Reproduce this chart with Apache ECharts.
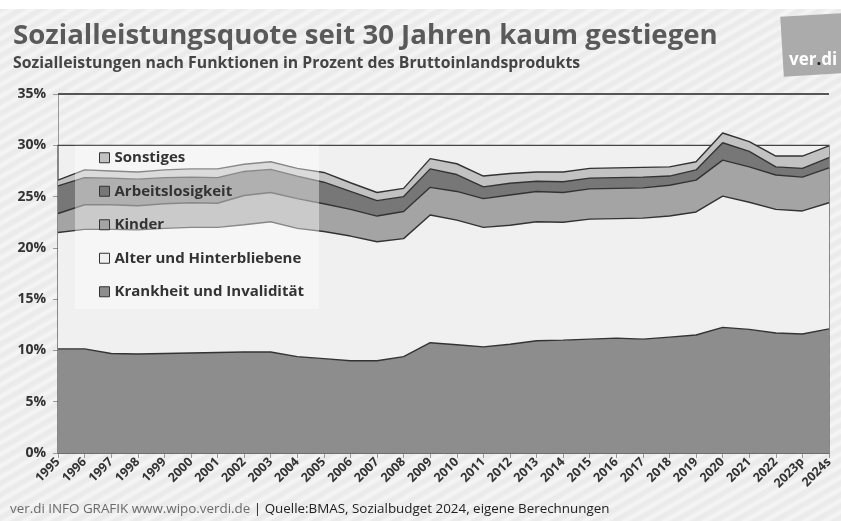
<!DOCTYPE html>
<html><head><meta charset="utf-8">
<script src="https://cdn.jsdelivr.net/npm/echarts@6/dist/echarts.min.js"></script>
<style>
html,body{margin:0;padding:0;background:#fff;}
#bg{position:absolute;left:0;top:9px;width:841px;height:512px;background:repeating-linear-gradient(150deg,#eaeaea 0px,#ececec 3px,#f4f4f4 5px,#f4f4f4 7px,#ececec 9px,#eaeaea 10px);}
#c{position:absolute;left:0;top:0;width:841px;height:521px;}
</style></head><body><div id="bg"></div><div id="c"></div>
<script>
const years = ['1995','1996','1997','1998','1999','2000','2001','2002','2003','2004','2005','2006','2007','2008','2009','2010','2011','2012','2013','2014','2015','2016','2017','2018','2019','2020','2021','2022','2023p','2024s'];
const krankheit = [10.15,10.15,9.7,9.65,9.7,9.75,9.8,9.85,9.85,9.4,9.2,9.0,9.0,9.4,10.75,10.55,10.35,10.6,10.95,11.0,11.1,11.2,11.1,11.3,11.5,12.25,12.05,11.7,11.6,12.1];
const alter = [11.35,11.65,12.1,12.1,12.2,12.25,12.2,12.4,12.7,12.5,12.4,12.15,11.6,11.5,12.45,12.15,11.65,11.6,11.6,11.5,11.7,11.65,11.8,11.8,12.0,12.8,12.4,12.05,12.0,12.3];
const kinder = [1.85,2.4,2.4,2.35,2.4,2.4,2.35,2.85,2.85,2.9,2.7,2.6,2.5,2.65,2.7,2.8,2.8,2.95,2.95,2.9,2.95,2.95,2.95,3.0,3.1,3.5,3.45,3.35,3.3,3.4];
const arbeit = [2.7,2.65,2.6,2.6,2.55,2.5,2.5,2.35,2.25,2.2,2.1,1.75,1.5,1.45,1.8,1.65,1.15,1.15,1.0,1.05,1.05,1.05,1.05,0.9,1.0,1.7,1.5,0.8,0.85,1.0];
const sonstiges = [0.55,0.75,0.7,0.7,0.75,0.8,0.85,0.7,0.75,0.75,0.95,0.85,0.8,0.8,1.0,1.05,1.05,0.95,0.9,0.95,0.95,0.95,0.95,0.9,0.8,0.95,0.95,1.05,1.2,1.15];
const yTicks = {min:0, max:35, interval:5};
const names = ['Krankheit und Invalidität','Alter und Hinterbliebene','Kinder','Arbeitslosigkeit','Sonstiges'];
const colors = ['#8d8d8d','#f0f0f0','#a4a4a4','#777777','#c2c2c2'];
const values = [krankheit, alter, kinder, arbeit, sonstiges];

const font = '"Open Sans", "DejaVu Sans", sans-serif';
const chart = echarts.init(document.getElementById('c'), null, {renderer:'canvas'});

const series = names.map((n,i)=>({
  name:n, type:'line', stack:'total', data:values[i], showSymbol:false, symbol:'none',
  lineStyle:{color:'#333', width:1.4},
  itemStyle:{color:colors[i], borderColor:'#333', borderWidth:1},
  areaStyle:{color:colors[i], opacity:1},
  z:3
}));

chart.setOption({
  animation:false,
  backgroundColor:'transparent',
  textStyle:{fontFamily:font},
  title:{
    text:'Sozialleistungsquote seit 30 Jahren kaum gestiegen',
    subtext:'Sozialleistungen nach Funktionen in Prozent des Bruttoinlandsprodukts',
    left:8, top:17, itemGap:5,
    textStyle:{fontFamily:font, fontSize:27.6, fontWeight:'bold', color:'#5a5a5a'},
    subtextStyle:{fontFamily:font, fontSize:15.8, fontWeight:'bold', color:'#454545'}
  },
  grid:{left:58, right:12, top:94, bottom:68, containLabel:false},
  legend:{
    data:[names[4],names[3],names[2],names[1],names[0]],
    orient:'vertical', left:94, top:144, icon:'rect', itemWidth:10, itemHeight:10, itemGap:16,
    itemStyle:{borderColor:'#333', borderWidth:1},
    textStyle:{fontFamily:font, fontSize:15, fontWeight:'bold', color:'#333', lineHeight:17.5},
    selectedMode:false, z:10
  },
  xAxis:{
    type:'category', data:years, boundaryGap:false,
    axisLine:{lineStyle:{color:'#999'}},
    axisTick:{show:true, interval:0, length:5, lineStyle:{color:'#999'}},
    axisLabel:{interval:0, rotate:45, fontFamily:font, fontSize:12.5, fontWeight:'bold', color:'#333', margin:7}
  },
  yAxis:{
    type:'value', min:yTicks.min, max:yTicks.max, interval:yTicks.interval,
    axisLine:{show:true, lineStyle:{color:'#999'}},
    axisTick:{show:true, length:5, lineStyle:{color:'#999'}},
    splitLine:{show:false},
    axisLabel:{formatter:'{value}%', fontFamily:font, fontSize:14, fontWeight:'bold', color:'#333', margin:12}
  },
  series:series
});

const p0 = chart.convertToPixel({gridIndex:0}, [years[0], 0]);
const p30 = chart.convertToPixel({gridIndex:0}, [years[years.length-1], 30]);
const p35 = chart.convertToPixel({gridIndex:0}, [years[years.length-1], 35]);
const pL35 = chart.convertToPixel({gridIndex:0}, [years[0], 35]);

chart.setOption({
  graphic:[
    {type:'rect', z:1, shape:{x:p0[0], y:p30[1], width:p30[0]-p0[0], height:p0[1]-p30[1]},
     style:{fill:'#f0f0f0', stroke:'#444', lineWidth:1.2}},
    {type:'line', z:1, shape:{x1:pL35[0], y1:p35[1], x2:p35[0], y2:p35[1]}, style:{stroke:'#555', lineWidth:1.8}},
    {type:'rect', z:5, shape:{x:75, y:p30[1]+0.5, width:244, height:163},
     style:{fill:'rgba(255,255,255,0.42)'}},
    {type:'group', z:6, x:811, y:45, rotation:0.06, children:[
      {type:'rect', shape:{x:-29, y:-30, width:62, height:60}, style:{fill:'#ababab'}}
    ]},
    {type:'text', z:7, left:789, top:52,
     style:{text:'{a|ver}{b|.}{a|di}', rich:{a:{fill:'#fff', fontSize:17, fontWeight:'bold', fontFamily:font}, b:{fill:'#222', fontSize:17, fontWeight:'bold', fontFamily:font}}}},
    {type:'text', z:7, left:10, top:503,
     style:{text:'{a|ver.di INFO GRAFIK www.wipo.verdi.de }{b|| Quelle:BMAS, Sozialbudget 2024, eigene Berechnungen}',
       rich:{a:{fill:'#6a6a6a', fontSize:13.4, fontFamily:font}, b:{fill:'#222', fontSize:13.4, fontFamily:font}}}}
  ]
});
</script></body></html>
